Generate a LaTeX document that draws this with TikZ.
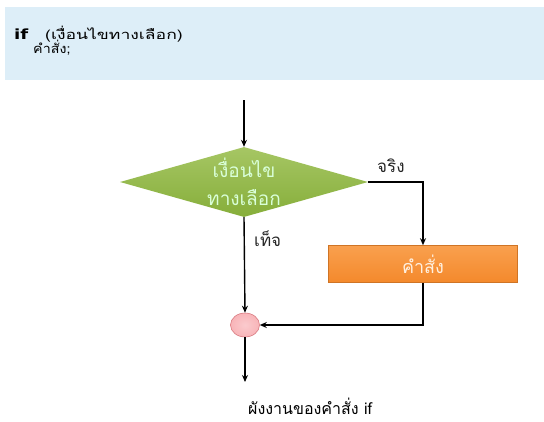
\documentclass[tikz,border=0pt]{standalone}
\usepackage{fontspec}
\setmainfont{Liberation Sans}
\newfontfamily\thai[Script=Thai]{Loma}
\newfontfamily\thaiwide[Script=Thai,FakeStretch=1.35]{Loma}
\newfontfamily\thaimid[Script=Thai,FakeStretch=1.1]{Loma}
\newfontfamily\kwfont[FakeStretch=1.3]{DejaVu Sans}
\usetikzlibrary{shapes.geometric,arrows.meta}
\definecolor{boxblue}{HTML}{DDEEF8}
\definecolor{dgreen}{HTML}{86AE3A}
\definecolor{lgreen}{HTML}{A6C664}
\definecolor{orng}{HTML}{F4892C}
\definecolor{lorng}{HTML}{F9A04E}
\definecolor{pinkf}{HTML}{F8B4B8}
\definecolor{pinkd}{HTML}{D97A80}
\begin{document}
\begin{tikzpicture}[x=1pt,y=-1pt,
  flow/.style={line width=1.4pt,-{Stealth[length=7pt,width=6pt]}},
  lbl/.style={font=\thai\fontsize{17}{18}\selectfont,text=black!85,inner sep=0pt},
  dec/.style={diamond,minimum width=248pt,minimum height=70pt,inner sep=0pt,aspect=3.5,
     top color=lgreen,bottom color=dgreen,draw=none,text=white!85!green,
     font=\thai\fontsize{19}{28}\selectfont,align=center},
  stmt/.style={rectangle,minimum width=189pt,minimum height=37pt,inner sep=0pt,
     top color=lorng,bottom color=orng,draw=orng!85!black,line width=0.6pt,
     text=white!88!orange,font=\thai\fontsize{18}{20}\selectfont},
  joinpt/.style={ellipse,minimum width=29pt,minimum height=24pt,inner sep=0pt,
     inner color=pinkf!70!white,outer color=pinkf,draw=pinkd,line width=0.6pt}]
\useasboundingbox (0,0) rectangle (544,421);
\fill[white] (0,0) rectangle (544,421);
% code box
\node[rectangle,fill=boxblue,minimum width=539pt,minimum height=73pt,inner sep=0pt,anchor=north west] (codebox) at (5,7) {};
\node[anchor=base west,inner sep=0pt,font=\kwfont\fontsize{14}{15}\selectfont\bfseries] (kwif) at (14,39) {if};
\node[anchor=base west,inner sep=0pt,font=\thaiwide\fontsize{13}{14}\selectfont] (cond) at (45,39) {(เงื่อนไขทางเลือก)};
\node[anchor=base west,inner sep=0pt,font=\thaimid\fontsize{13}{14}\selectfont] (cmd) at (33,53) {คำสั่ง;};
% flowchart
\coordinate (start) at (244,100);
\node[dec] (d) at (244,182) {เงื่อนไข\\ทางเลือก};
\node[stmt] (s) at (423,264) {คำสั่ง};
\node[joinpt] (j) at (245,325) {};
\coordinate (endp) at (245,382);
\coordinate (rt) at (423,182);
\coordinate (rb) at (423,325);
\draw[flow] (start) -- (d.north);
\draw[flow] (d.east) -- (rt) -- (s.north);
\draw[flow] (d.south) -- (j.north);
\draw[flow] (s.south) -- (rb) -- (j.east);
\draw[flow] (j.south) -- (endp);
\node[lbl,anchor=base west] (yes) at (377,172) {จริง};
\node[lbl,anchor=base west] (no) at (254,246) {เท็จ};
\node[anchor=base west,inner sep=0pt,font=\thai\fontsize{16}{18}\selectfont] (cap) at (248,414) {ผังงานของคำสั่ง if};
\end{tikzpicture}
\end{document}
